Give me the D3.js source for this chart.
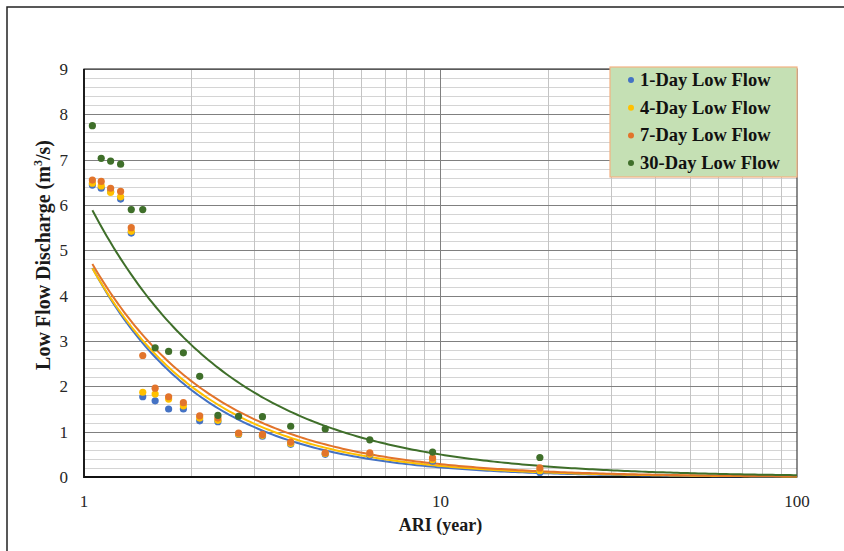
<!DOCTYPE html>
<html>
<head>
<meta charset="utf-8">
<script src="https://cdn.jsdelivr.net/npm/d3@7"></script>
<style>
body { margin: 0; background: #fff; }
text { font-family: "Liberation Serif", "Times New Roman", serif; }
</style>
</head>
<body>
<script>
var width = 844
var height = 551

// ARI (year) of each ranked low flow, smallest first
var ari = [1.0556, 1.1176, 1.1875, 1.2667, 1.3571, 1.4615, 1.5833, 1.7273, 1.9,
           2.1111, 2.375, 2.7143, 3.1667, 3.8, 4.75, 6.3333, 9.5, 19]

var day1  = [6.44, 6.37, 6.30, 6.13, 5.38, 1.77, 1.68, 1.50, 1.50,
             1.24, 1.22, 0.94, 0.90, 0.72, 0.50, 0.48, 0.35, 0.10]
var day4  = [6.48, 6.42, 6.28, 6.18, 5.42, 1.87, 1.83, 1.72, 1.57,
             1.30, 1.25, 0.95, 0.92, 0.74, 0.52, 0.50, 0.38, 0.14]
var day7  = [6.55, 6.52, 6.37, 6.30, 5.50, 2.68, 1.96, 1.77, 1.64,
             1.35, 1.30, 0.97, 0.94, 0.77, 0.53, 0.53, 0.42, 0.20]
var day30 = [7.75, 7.03, 6.97, 6.90, 5.90, 5.90, 2.85, 2.77, 2.74,
             2.22, 1.36, 1.34, 1.33, 1.12, 1.06, 0.82, 0.55, 0.43]

var seriesNames = ["1-Day Low Flow", "4-Day Low Flow", "7-Day Low Flow", "30-Day Low Flow"]
var seriesColors = ["#4472c4", "#ffc000", "#e2742b", "#3f6f2a"]
var seriesValues = [day1, day4, day7, day30]

var xTickLabels = [1, 10, 100]
var yTickLabels = [0, 1, 2, 3, 4, 5, 6, 7, 8, 9]

var svg = d3.select("body")
	.append("svg")
	.attr("width", width)
	.attr("height", height)

// outer frame of the figure
svg.append("rect")
	.attr("x", 7).attr("y", 7)
	.attr("width", width).attr("height", height)
	.attr("fill", "none")
	.attr("stroke", "#222")
	.attr("stroke-width", 1.5)

var x = d3.scaleLog().domain([1, 100]).range([84, 797])
var y = d3.scaleLinear().domain([0, 9]).range([477, 69])

// minor horizontal grid every 0.2
svg.append("g")
	.selectAll("line")
	.data(y.ticks(45).filter(function(d) { return Math.abs(d - Math.round(d)) > 0.01 }))
	.enter().append("line")
	.attr("x1", x(1)).attr("x2", x(100))
	.attr("y1", function(d) { return Math.round(y(d)) + 0.5 })
	.attr("y2", function(d) { return Math.round(y(d)) + 0.5 })
	.attr("stroke", "#d4d4d4")

// minor vertical grid
svg.append("g")
	.selectAll("line")
	.data(x.ticks().filter(function(d) { return xTickLabels.indexOf(d) < 0 }))
	.enter().append("line")
	.attr("x1", function(d) { return Math.round(x(d)) + 0.5 })
	.attr("x2", function(d) { return Math.round(x(d)) + 0.5 })
	.attr("y1", y(0)).attr("y2", y(9))
	.attr("stroke", "#c4c4c4")

// major grid
svg.append("g")
	.selectAll("line")
	.data(yTickLabels)
	.enter().append("line")
	.attr("x1", x(1)).attr("x2", x(100))
	.attr("y1", function(d) { return Math.round(y(d)) + 0.5 })
	.attr("y2", function(d) { return Math.round(y(d)) + 0.5 })
	.attr("stroke", "#808080")

svg.append("line")
	.attr("x1", x(10)).attr("x2", x(10))
	.attr("y1", y(0)).attr("y2", y(9))
	.attr("stroke", "#808080")

// plot frame
svg.append("rect")
	.attr("x", x(1)).attr("y", y(9))
	.attr("width", x(100) - x(1)).attr("height", y(0) - y(9))
	.attr("fill", "none")
	.attr("stroke", "#404040")
	.attr("stroke-width", 1.2)

svg.append("path")
	.attr("d", "M" + x(1) + "," + y(9) + "V" + y(0) + "H" + x(100))
	.attr("fill", "none")
	.attr("stroke", "#111")
	.attr("stroke-width", 1.8)

// power trendline (least squares on log-log), like the spreadsheet does
function powerFit(xs, ys) {
	var lx = xs.map(Math.log), ly = ys.map(Math.log)
	var mx = d3.mean(lx), my = d3.mean(ly)
	var sxy = d3.sum(lx, function(v, i) { return (v - mx) * (ly[i] - my) })
	var sxx = d3.sum(lx, function(v) { return (v - mx) * (v - mx) })
	var b = sxy / sxx
	var a = Math.exp(my - b * mx)
	return function(t) { return a * Math.pow(t, b) }
}

var line = d3.line()
	.x(function(d) { return x(d[0]) })
	.y(function(d) { return y(d[1]) })

var steps = d3.range(0, 201).map(function(i) {
	return Math.pow(10, Math.log10(ari[0]) + (2 - Math.log10(ari[0])) * i / 200)
})

seriesValues.forEach(function(vals, k) {
	var f = powerFit(ari, vals)
	svg.append("path")
		.datum(steps.map(function(t) { return [t, f(t)] }))
		.attr("d", line)
		.attr("fill", "none")
		.attr("stroke", seriesColors[k])
		.attr("stroke-width", 2)
})

seriesValues.forEach(function(vals, k) {
	svg.append("g")
		.selectAll("circle")
		.data(vals)
		.enter().append("circle")
		.attr("cx", function(d, i) { return x(ari[i]) })
		.attr("cy", function(d) { return y(d) })
		.attr("r", 3.6)
		.attr("fill", seriesColors[k])
})

// tick labels
svg.append("g")
	.selectAll("text")
	.data(yTickLabels)
	.enter().append("text")
	.attr("x", 68)
	.attr("y", function(d) { return y(d) + 6 })
	.attr("text-anchor", "end")
	.style("font-size", "17px")
	.style("fill", "#262626")
	.text(function(d) { return d })

svg.append("g")
	.selectAll("text")
	.data(xTickLabels)
	.enter().append("text")
	.attr("x", function(d) { return x(d) })
	.attr("y", 507)
	.attr("text-anchor", "middle")
	.style("font-size", "17px")
	.style("fill", "#262626")
	.text(function(d) { return d })

// axis titles
svg.append("text")
	.attr("x", x(10))
	.attr("y", 531)
	.attr("text-anchor", "middle")
	.style("font-size", "18px")
	.style("font-weight", "bold")
	.style("fill", "#1a1a1a")
	.text("ARI (year)")

var yTitle = svg.append("text")
	.attr("transform", "translate(50,255) rotate(-90)")
	.attr("text-anchor", "middle")
	.style("font-size", "20px")
	.style("font-weight", "bold")
	.style("fill", "#1a1a1a")
yTitle.append("tspan").text("Low Flow Discharge (m")
yTitle.append("tspan").attr("dy", -8).style("font-size", "12px").text("3")
yTitle.append("tspan").attr("dy", 8).text("/s)")

// legend
var legend = svg.append("g")
legend.append("rect")
	.attr("x", 610).attr("y", 67)
	.attr("width", 187).attr("height", 110)
	.attr("fill", "#c5e0b4")
	.attr("stroke", "#f4b183")
	.attr("stroke-width", 1.2)

var items = legend.selectAll("g.item")
	.data(seriesNames)
	.enter().append("g")
	.attr("class", "item")
	.attr("transform", function(d, i) { return "translate(0," + (80 + i * 27.7) + ")" })

items.append("circle")
	.attr("cx", 631).attr("cy", 0).attr("r", 3)
	.attr("fill", function(d, i) { return seriesColors[i] })

items.append("text")
	.attr("x", 640).attr("y", 6)
	.style("font-size", "18.5px")
	.style("font-weight", "bold")
	.style("fill", "#111")
	.text(function(d) { return d })
</script>
</body>
</html>
